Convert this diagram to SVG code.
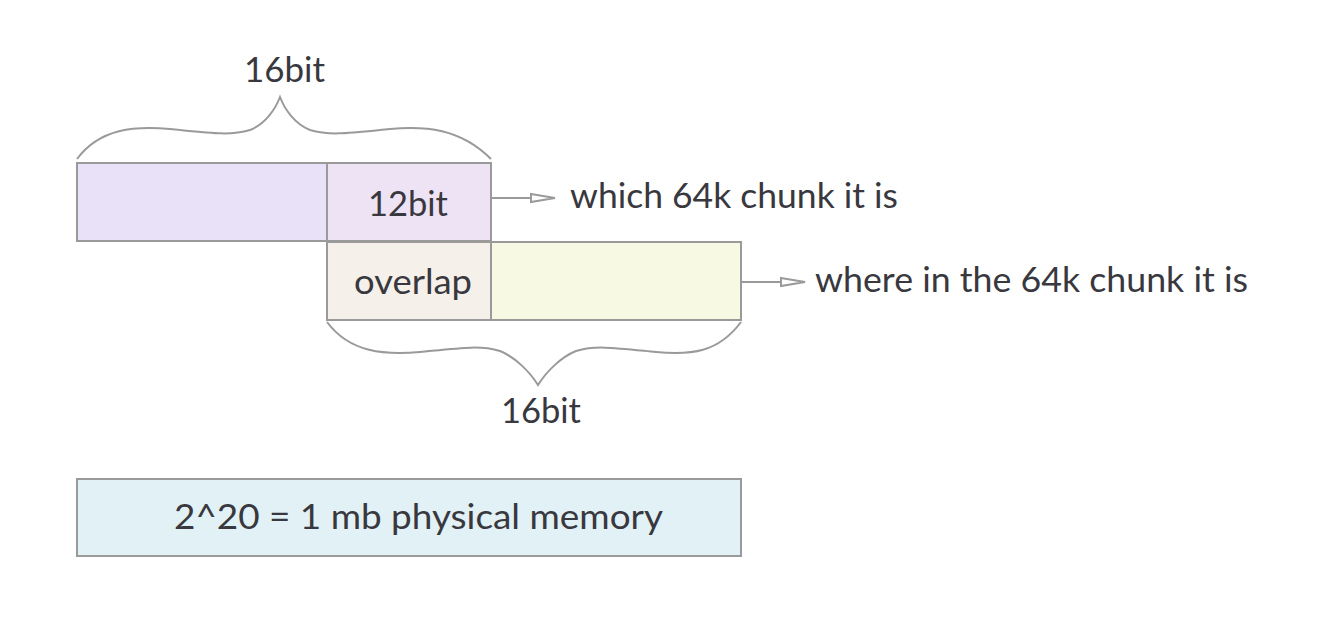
<svg xmlns="http://www.w3.org/2000/svg" width="1344" height="636" viewBox="0 0 1344 636">
<style>
.box{stroke:#9a9a9a;stroke-width:2}
.lbl{font-family:Lato,"Noto Sans",sans-serif;font-size:34px;fill:#38383e}
.brace{fill:none;stroke:#9a9a9a;stroke-width:2}
.conn{stroke:#9a9a9a;stroke-width:2;fill:none}
.head{fill:#fff;stroke:#9a9a9a;stroke-width:2}
</style>
<rect width="1344" height="636" fill="#fff"/>
<g id="brace-top">
<path class="brace" d="M77,159 C100,128 135,126 170,129 C210,133 230,136 250,130 C265,124 275,110 280,97 C285,110 295,124 310,130 C330,136 350,133 390,129 C425,126 460,128 491,159"/>
<text class="lbl" x="244" y="82" textLength="81" lengthAdjust="spacingAndGlyphs">16bit</text>
</g>
<g id="node-high">
<rect class="box" x="77" y="163" width="250" height="78" fill="#e8e1f7"/>
</g>
<g id="node-12bit">
<rect class="box" x="327" y="163" width="164" height="78" fill="#ede3f5"/>
<text class="lbl" x="368" y="216" textLength="80" lengthAdjust="spacingAndGlyphs">12bit</text>
</g>
<g id="node-overlap">
<rect class="box" x="327" y="242" width="164" height="78" fill="#f5f1ea"/>
<text class="lbl" x="354" y="294" textLength="118" lengthAdjust="spacingAndGlyphs">overlap</text>
</g>
<g id="node-low">
<rect class="box" x="491" y="242" width="250" height="78" fill="#f8f9e3"/>
</g>
<g id="brace-bottom">
<path class="brace" d="M327,322 C350,353 385,355 420,352 C460,348 480,345 500,351 C515,357 530,372 538,385 C546,372 561,357 576,351 C596,345 616,348 656,352 C691,355 718,353 741,322"/>
<text class="lbl" x="501" y="423" textLength="80" lengthAdjust="spacingAndGlyphs">16bit</text>
</g>
<g id="node-memory">
<rect class="box" x="77" y="479" width="664" height="77" fill="#e2f1f6"/>
<text class="lbl" x="174" y="529" textLength="489" lengthAdjust="spacingAndGlyphs">2^20 = 1 mb physical memory</text>
</g>
<g id="connectors">
<line class="conn" x1="491" y1="198" x2="531" y2="198"/>
<path class="head" d="M531,194 L555,198 L531,202 Z"/>
<line class="conn" x1="741" y1="282" x2="781" y2="282"/>
<path class="head" d="M781,278 L805,282 L781,286 Z"/>
</g>
<g id="label-which">
<text class="lbl" x="570" y="208" textLength="328" lengthAdjust="spacingAndGlyphs">which 64k chunk it is</text>
</g>
<g id="label-where">
<text class="lbl" x="815" y="292" textLength="433" lengthAdjust="spacingAndGlyphs">where in the 64k chunk it is</text>
</g>
</svg>
